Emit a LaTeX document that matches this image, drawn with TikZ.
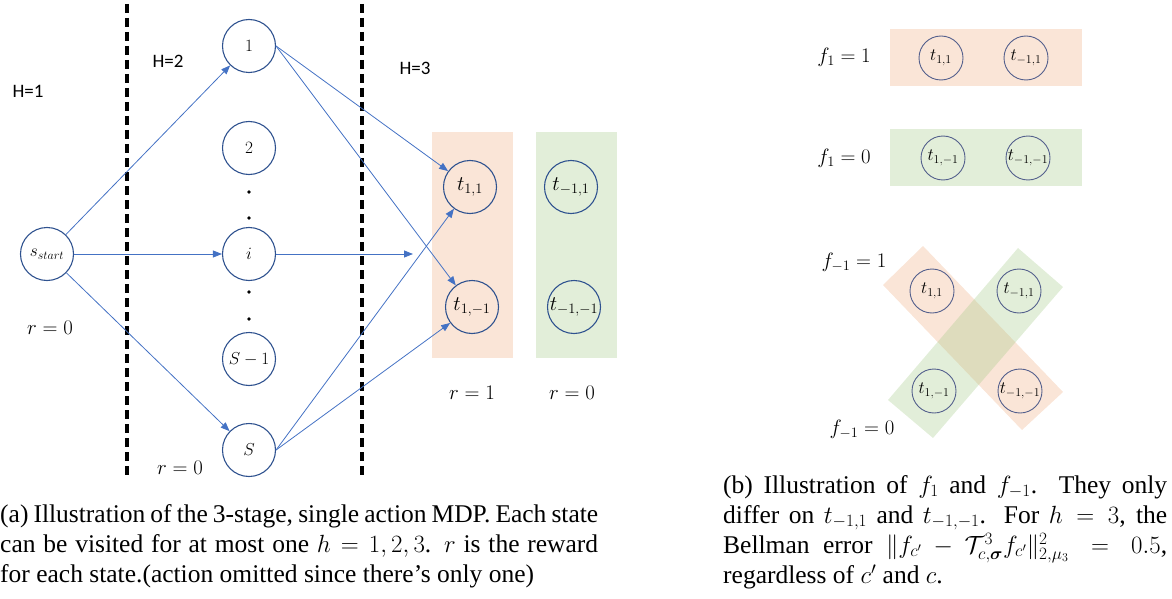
\documentclass[tikz,border=0pt]{standalone}
\usepackage{amsmath,amssymb}
\usepackage{fontspec}
\setmainfont{Liberation Serif}
\newfontfamily\labelfont{Carlito}
\usepackage{tikz}
\usetikzlibrary{arrows.meta}

\definecolor{edgeblue}{RGB}{68,114,196}
\definecolor{ringblue}{RGB}{47,82,143}
\definecolor{ringgray}{RGB}{84,96,140}
\definecolor{peach}{RGB}{240,180,140}
\definecolor{sage}{RGB}{160,200,130}

\tikzset{
  state/.style={circle, draw=ringblue, line width=1.1, minimum size=53, inner sep=0, font=\fontsize{18}{20}\selectfont},
  tstate/.style={state, font=\fontsize{22}{24}\selectfont},
  small state/.style={circle, draw=ringgray, line width=0.9, minimum size=44, inner sep=0, font=\fontsize{18}{20}\selectfont},
  edge/.style={draw=edgeblue, line width=0.8, -{Triangle[length=9,width=7]}},
  sep/.style={line width=3.5, dash pattern=on 9 off 5},
  peachbox/.style={fill=peach, fill opacity=0.35},
  sagebox/.style={fill=sage, fill opacity=0.3},
  stage/.style={font=\labelfont\fontsize{19}{22}\selectfont},
  reward/.style={font=\fontsize{21}{24}\selectfont},
  fval/.style={font=\fontsize{20}{22}\selectfont},
  caption/.style={anchor=north west, inner sep=0, align=justify, font=\fontsize{25.5}{30}\selectfont}
}

\begin{document}
\begin{tikzpicture}[x=1pt,y=1pt,yscale=-1,xscale=1]
\useasboundingbox (0,0) rectangle (1172,599);

%Shape: Rectangle
\fill [peachbox] (432,132) rectangle (513,358);
%Shape: Rectangle
\fill [sagebox] (536,132) rectangle (617,358);

%Straight Lines
\draw [sep] (127,4) -- (127,478);
%Straight Lines
\draw [sep] (362,4) -- (362,478);

%Shape: Circle
\draw (47,254) node [state] (s) {$s_{start}$};
\draw (249,46) node [state] (n1) {$1$};
\draw (249,148) node [state] (n2) {$2$};
\draw (249,254) node [state] (ni) {$i$};
\draw (249,359) node [state] (nSm) {$S-1$};
\draw (249,450) node [state] (nS) {$S$};
\draw (470,187) node [tstate] (t11) {$t_{1,1}$};
\draw (472,307) node [tstate] (t1m) {$t_{1,-1}$};
\draw (571,187) node [tstate] (tm11) {$t_{-1,1}$};
\draw (574,307) node [tstate] (tm1m) {$t_{-1,-1}$};

%Shape: Dots
\fill (249,192) circle (1.8);
\fill (249,218) circle (1.8);
\fill (249,292) circle (1.8);
\fill (249,319) circle (1.8);

\coordinate (meet) at (413,254);

%Straight Lines
\draw [edge] (s) -- (n1);
\draw [edge] (s) -- (ni);
\draw [edge] (s) -- (nS);
\draw [edge] (n1.east) -- (t11);
\draw [edge] (n1.east) -- (t1m);
\draw [edge] (ni) -- (meet);
\draw [edge] (nS.east) -- (t11);
\draw [edge] (nS.east) -- (t1m);

% Text Node
\draw (28,91) node [stage] (h1) {H=1};
% Text Node
\draw (168,61) node [stage] (h2) {H=2};
% Text Node
\draw (415,68) node [stage] (h3) {H=3};
% Text Node
\draw (50,328) node [reward] (r0a) {$r=0$};
% Text Node
\draw (180,468) node [reward] (r0b) {$r=0$};
% Text Node
\draw (472,393) node [reward] (r1) {$r=1$};
% Text Node
\draw (572,393) node [reward] (r0c) {$r=0$};

%Shape: Rectangle
\fill [peachbox] (890,29) rectangle (1082,86);
%Shape: Rectangle
\fill [sagebox] (890,129) rectangle (1082,186);
%Shape: Rotated Rectangle
\fill [peachbox] (883,285) -- (923,246) -- (1063,392) -- (1022,430) -- cycle;
%Shape: Rotated Rectangle
\fill [sagebox] (888,400) -- (933,438) -- (1063,287) -- (1018,248) -- cycle;

%Shape: Circle
\draw (941,58) node [small state] (a11) {$t_{1,1}$};
\draw (1026,58) node [small state] (am11) {$t_{-1,1}$};
\draw (943,158) node [small state] (a1m) {$t_{1,-1}$};
\draw (1028,158) node [small state] (am1m) {$t_{-1,-1}$};
\draw (932,291) node [small state] (b11) {$t_{1,1}$};
\draw (1019,291) node [small state] (bm11) {$t_{-1,1}$};
\draw (934,391) node [small state] (b1m) {$t_{1,-1}$};
\draw (1020,391) node [small state] (bm1m) {$t_{-1,-1}$};

% Text Node
\draw (844,57) node [fval] (fa) {$f_1=1$};
% Text Node
\draw (844,158) node [fval] (fb) {$f_1=0$};
% Text Node
\draw (854,262) node [fval] (fc) {$f_{-1}=1$};
% Text Node
\draw (862,429) node [fval] (fd) {$f_{-1}=0$};

% Text Node
\draw (0,504) node [caption, text width=598] (capa) {(a) Illustration of the 3-stage, single action MDP. Each state\linebreak can be visited for at most one $h=1,2,3$. $r$ is the reward\linebreak for each state.(action omitted since there's only one)};
% Text Node
\draw (723,475) node [caption, text width=444] (capb) {(b) Illustration of $f_1$ and $f_{-1}$. They only\linebreak differ on $t_{-1,1}$ and $t_{-1,-1}$. For $h=3$, the\linebreak Bellman error $\|f_{c'}-\mathcal{T}^3_{c,\boldsymbol{\sigma}}f_{c'}\|^2_{2,\mu_3}=0.5$,\linebreak regardless of $c'$ and $c$.};

\end{tikzpicture}
\end{document}
